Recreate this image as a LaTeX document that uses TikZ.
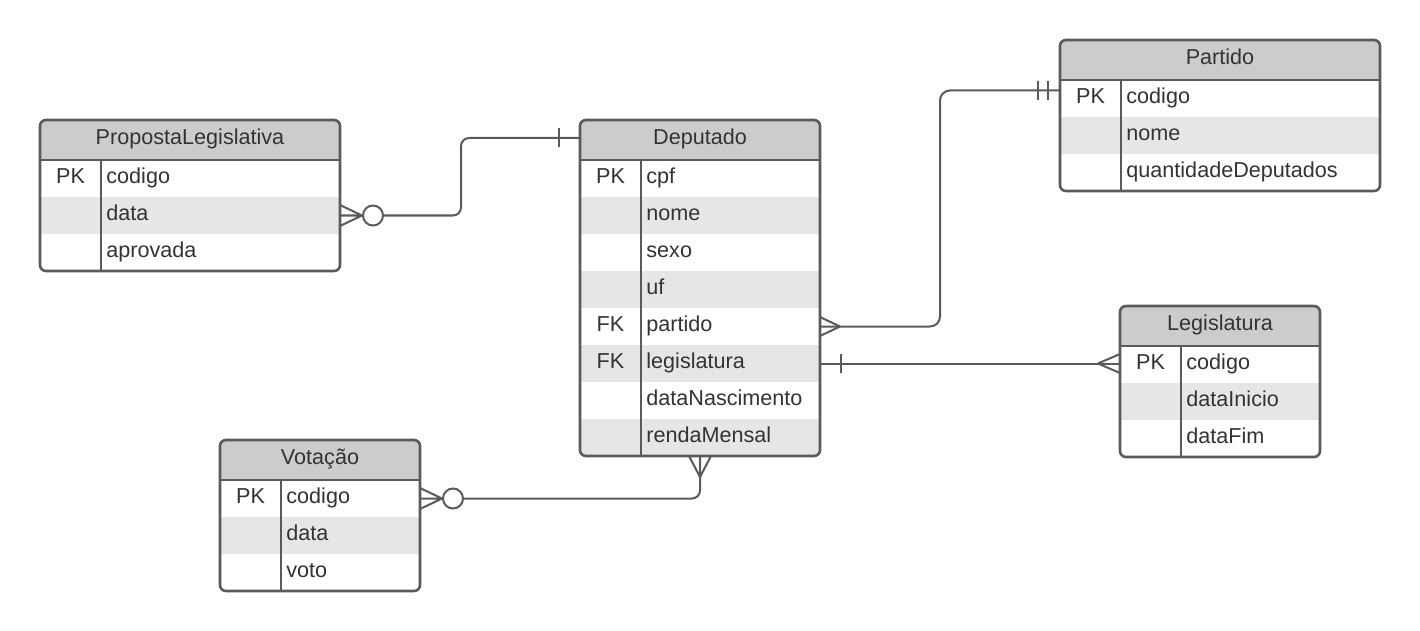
\documentclass[tikz,border=0pt]{standalone}
\usepackage{fontspec}
\setmainfont{Liberation Sans}
\usetikzlibrary{positioning}
\definecolor{linegrey}{HTML}{5A5A5A}
\definecolor{headgrey}{HTML}{CCCCCC}
\definecolor{rowgrey}{HTML}{E6E6E6}
\definecolor{txtgrey}{HTML}{333333}

\begin{document}
\begin{tikzpicture}[x=0.5pt, y=-0.5pt, font=\fontsize{10.8}{13}\selectfont, text=txtgrey,
                    head/.style={rectangle, fill=headgrey, minimum height=20pt, inner sep=0pt, outer sep=0pt,
                                 text height=7.5pt, text depth=2.6pt},
                    row/.style={rectangle, minimum height=18.5pt, inner sep=0pt, outer sep=0pt},
                    key/.style={inner sep=0pt, text height=7.5pt, text depth=2.6pt},
                    field/.style={anchor=west, inner sep=0pt, text height=7.5pt, text depth=2.6pt},
                    border/.style={draw=linegrey, line width=1.3pt},
                    conn/.style={draw=linegrey, line width=1pt},
                    zero/.style={circle, draw=linegrey, line width=1pt, fill=white, minimum size=10pt, inner sep=0pt}]

  \useasboundingbox (0,0) rectangle (1420,631);

  % PropostaLegislativa
  \begin{scope}
    \clip[rounded corners=3pt] (40,120) rectangle (340,271);
    \node[head, minimum width=150pt, alias=pl] (pl-0) at (190,140) {PropostaLegislativa};
    \foreach \k/\f [count=\i] in {PK/codigo, /data, /aprovada} {
      \pgfmathtruncatemacro\j{\i-1}
      \ifodd\i \def\rowcol{white}\else \def\rowcol{rowgrey}\fi
      \node[row, fill=\rowcol, minimum width=150pt] (pl-\i) [below=0pt of pl-\j] {};
      \node[key] at ([xshift=15.25pt]pl-\i.west) {\k};
      \node[field] at ([xshift=33pt]pl-\i.west) {\f};
    }
  \end{scope}
  \draw[border, rounded corners=3pt] (pl.north west) rectangle (pl-3.south east);
  \draw[border] (pl-1.north west) -- (pl-1.north east)
                ([xshift=30.5pt]pl-1.north west) -- ([xshift=30.5pt]pl-3.south west);

  % Deputado
  \begin{scope}
    \clip[rounded corners=3pt] (580,120) rectangle (820,456);
    \node[head, minimum width=120pt, alias=dep] (dep-0) at (700,140) {Deputado};
    \foreach \k/\f [count=\i] in {PK/cpf, /nome, /sexo, /uf, FK/partido, FK/legislatura, /dataNascimento, /rendaMensal} {
      \pgfmathtruncatemacro\j{\i-1}
      \ifodd\i \def\rowcol{white}\else \def\rowcol{rowgrey}\fi
      \node[row, fill=\rowcol, minimum width=120pt] (dep-\i) [below=0pt of dep-\j] {};
      \node[key] at ([xshift=15.25pt]dep-\i.west) {\k};
      \node[field] at ([xshift=33pt]dep-\i.west) {\f};
    }
  \end{scope}
  \draw[border, rounded corners=3pt] (dep.north west) rectangle (dep-8.south east);
  \draw[border] (dep-1.north west) -- (dep-1.north east)
                ([xshift=30.5pt]dep-1.north west) -- ([xshift=30.5pt]dep-8.south west);

  % Partido
  \begin{scope}
    \clip[rounded corners=3pt] (1060,40) rectangle (1380,191);
    \node[head, minimum width=160pt, alias=par] (par-0) at (1220,60) {Partido};
    \foreach \k/\f [count=\i] in {PK/codigo, /nome, /quantidadeDeputados} {
      \pgfmathtruncatemacro\j{\i-1}
      \ifodd\i \def\rowcol{white}\else \def\rowcol{rowgrey}\fi
      \node[row, fill=\rowcol, minimum width=160pt] (par-\i) [below=0pt of par-\j] {};
      \node[key] at ([xshift=15.25pt]par-\i.west) {\k};
      \node[field] at ([xshift=33pt]par-\i.west) {\f};
    }
  \end{scope}
  \draw[border, rounded corners=3pt] (par.north west) rectangle (par-3.south east);
  \draw[border] (par-1.north west) -- (par-1.north east)
                ([xshift=30.5pt]par-1.north west) -- ([xshift=30.5pt]par-3.south west);

  % Legislatura
  \begin{scope}
    \clip[rounded corners=3pt] (1120,306) rectangle (1320,457);
    \node[head, minimum width=100pt, alias=leg] (leg-0) at (1220,326) {Legislatura};
    \foreach \k/\f [count=\i] in {PK/codigo, /dataInicio, /dataFim} {
      \pgfmathtruncatemacro\j{\i-1}
      \ifodd\i \def\rowcol{white}\else \def\rowcol{rowgrey}\fi
      \node[row, fill=\rowcol, minimum width=100pt] (leg-\i) [below=0pt of leg-\j] {};
      \node[key] at ([xshift=15.25pt]leg-\i.west) {\k};
      \node[field] at ([xshift=33pt]leg-\i.west) {\f};
    }
  \end{scope}
  \draw[border, rounded corners=3pt] (leg.north west) rectangle (leg-3.south east);
  \draw[border] (leg-1.north west) -- (leg-1.north east)
                ([xshift=30.5pt]leg-1.north west) -- ([xshift=30.5pt]leg-3.south west);

  % Votacao
  \begin{scope}
    \clip[rounded corners=3pt] (220,440) rectangle (420,591);
    \node[head, minimum width=100pt, alias=vot] (vot-0) at (320,460) {Votação};
    \foreach \k/\f [count=\i] in {PK/codigo, /data, /voto} {
      \pgfmathtruncatemacro\j{\i-1}
      \ifodd\i \def\rowcol{white}\else \def\rowcol{rowgrey}\fi
      \node[row, fill=\rowcol, minimum width=100pt] (vot-\i) [below=0pt of vot-\j] {};
      \node[key] at ([xshift=15.25pt]vot-\i.west) {\k};
      \node[field] at ([xshift=33pt]vot-\i.west) {\f};
    }
  \end{scope}
  \draw[border, rounded corners=3pt] (vot.north west) rectangle (vot-3.south east);
  \draw[border] (vot-1.north west) -- (vot-1.north east)
                ([xshift=30.5pt]vot-1.north west) -- ([xshift=30.5pt]vot-3.south west);

  % PropostaLegislativa >o--| Deputado
  \node[zero] (z-pl) [right=11pt of pl-2.east] {};
  \draw[conn] (pl-2.east) -- (z-pl) (z-pl.west) -- ++(-22,-10.5) (z-pl.west) -- ++(-22,10.5);
  \draw[conn, rounded corners=4pt] (z-pl.east) -- ++(77,0) |- ([yshift=1pt]dep.west);
  \draw[conn] ([yshift=1pt]dep.west) ++(-21,-9.5) -- ++(0,19);

  % Deputado >--|| Partido
  \draw[conn, rounded corners=5pt] (dep-5.east) -- ++(120,0) |- ([yshift=4pt]par-1.west);
  \draw[conn] ([xshift=10pt]dep-5.east) -- ++(-20,-9.5) ([xshift=10pt]dep-5.east) -- ++(-20,9.5);
  \draw[conn] ([yshift=4pt]par-1.west) ++(-22,-9.5) -- ++(0,19)
              ([yshift=4pt]par-1.west) ++(-12,-9.5) -- ++(0,19);

  % Deputado |--< Legislatura
  \draw[conn] (dep-6.east) -- (dep-6.east -| leg-1.west);
  \draw[conn] (dep-6.east) ++(21,-9.5) -- ++(0,19);
  \draw[conn] ([xshift=-11pt]dep-6.east -| leg-1.west) -- ++(22,-9.5)
              ([xshift=-11pt]dep-6.east -| leg-1.west) -- ++(22,9.5);

  % Votacao >o--< Deputado
  \node[zero] (z-vot) [right=11pt of vot-1.east] {};
  \draw[conn] (vot-1.east) -- (z-vot) (z-vot.west) -- ++(-22,-10.5) (z-vot.west) -- ++(-22,10.5);
  \draw[conn, rounded corners=4pt] (z-vot.east) -| (dep-8.south);
  \draw[conn] ([yshift=-10.5pt]dep-8.south) -- ++(-11,-21) ([yshift=-10.5pt]dep-8.south) -- ++(11,-21);

\end{tikzpicture}
\end{document}
